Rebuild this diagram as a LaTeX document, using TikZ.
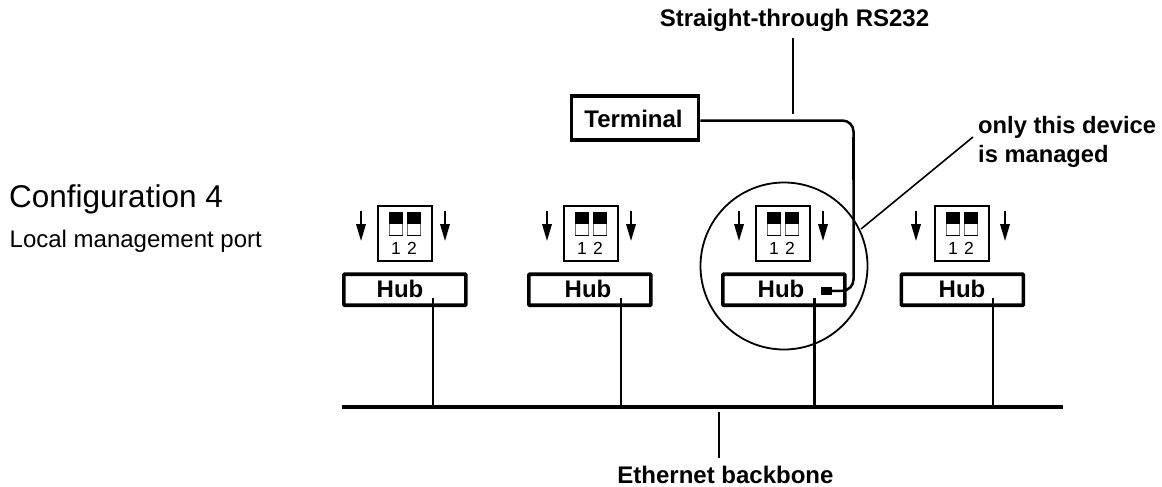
\documentclass[tikz,border=0pt]{standalone}
\usepackage{fontspec}
\setmainfont{Liberation Sans}
\usetikzlibrary{arrows.meta}
\tikzset{
 hubbox/.style={draw,line width=3.6pt,rounded corners=0.8pt,minimum width=122pt,minimum height=31pt,inner sep=0pt,anchor=north west},
 dipbox/.style={draw,line width=2.2pt,minimum width=54pt,minimum height=54.5pt,inner sep=0pt,anchor=north west},
 hublbl/.style={font=\fontsize{24}{26}\selectfont\bfseries,inner sep=0pt},
 lbl/.style={font=\fontsize{24}{29}\selectfont\bfseries,inner sep=0pt},
 sw/.style={draw=black!55,line width=1pt},
 downarrow/.style={line width=2pt,-{Triangle[width=9.5pt,length=17pt]}},
 cable/.style={line width=2.5pt},
 thin leader/.style={line width=1.6pt},
 drop/.style={line width=2.4pt},
 num/.style={font=\fontsize{17.5}{18}\selectfont,inner sep=0pt}
}
% #1 name, #2 hub left, #3 dip left, #4 hub text x, #5 tap x, #6 left arrow x, #7 right arrow x
\newcommand{\hubunit}[7]{%
 \node[hubbox] (#1) at (#2,272.4) {};
 \node[hublbl] (#1t) at (#4,289) {Hub};
 \node[dipbox] (#1d) at (#3,205) {};
 \draw[sw] (#3+12.5,212.5) rectangle (#3+25,235.5);
 \fill[black] (#3+12,212) rectangle (#3+25.5,224);
 \draw[black,line width=1.2pt] (#3+12,235.5) -- (#3+25.5,235.5);
 \draw[sw] (#3+30.5,212.5) rectangle (#3+43,235.5);
 \fill[black] (#3+30,212) rectangle (#3+43.5,224);
 \draw[black,line width=1.2pt] (#3+30,235.5) -- (#3+43.5,235.5);
 \node[num] (#1a) at (#3+19,248) {1};
 \node[num] (#1b) at (#3+35,248) {2};
 \coordinate (#1p) at (#6,211);
 \coordinate (#1q) at (#6,241);
 \coordinate (#1r) at (#7,211);
 \coordinate (#1s) at (#7,241);
 \draw[downarrow] (#1p) -- (#1q);
 \draw[downarrow] (#1r) -- (#1s);
 \coordinate (#1tap) at (#5,298);
 \coordinate (#1bb) at (#5,406);
 \draw[drop] (#1tap) -- (#1bb);
}
\begin{document}
\begin{tikzpicture}[x=1pt,y=-1pt]
\useasboundingbox (0,0) rectangle (1162,487);
\hubunit{ha}{342}{377}{400}{433}{361}{445}
\hubunit{hb}{527}{563}{588}{621}{547}{631}
\hubunit{hc}{721}{755}{781}{814.5}{739}{823}
\hubunit{hd}{899.5}{934}{962}{993}{916}{1005}
\coordinate (bl) at (342,406.5);
\coordinate (br) at (1063,406.5);
\draw[line width=4pt] (bl) -- (br);
\node[draw,line width=3.6pt,minimum width=127pt,minimum height=44.4pt,inner sep=0pt,font=\fontsize{24}{26}\selectfont\bfseries] (term) at (635,118) {\raisebox{-9pt}[0pt][0pt]{Terminal}\hspace*{3pt}};
\node[draw,line width=1.8pt,circle,minimum size=167pt,inner sep=0pt] (ring) at (784,266) {};
\node[fill=black,minimum width=11pt,minimum height=8pt,inner sep=0pt] (port) at (826.5,291) {};
\coordinate (c1) at (853.5,180);
\coordinate (c0) at (853.5,137);
\draw[cable,rounded corners=11pt] (term.east |- 0,120.5) -- (853.5,120.5) -- (853.5,290.5) -- (port.east);
\draw[line width=3.4pt] (c0) -- (c1);
\node[lbl,anchor=base] (st) at (794.5,27) {Straight-through RS232};
\coordinate (stb) at (793,38);
\coordinate (ste) at (793,114);
\draw[thin leader] (stb) -- (ste);
\node[lbl,anchor=base] (eb) at (725.5,483) {Ethernet backbone};
\coordinate (ebt) at (719,412);
\coordinate (ebb) at (719,458);
\draw[thin leader] (ebt) -- (ebb);
\node[lbl,align=left,anchor=west,font=\fontsize{23.7}{29}\selectfont\bfseries] (only) at (978,141.5) {only this device\\is managed};
\coordinate (la) at (861,229);
\coordinate (lb) at (973,137);
\draw[thin leader] (la) -- (lb);
\node[anchor=base west,inner sep=0pt,font=\fontsize{31.5}{34}\selectfont] (cf) at (9,207) {Configuration 4};
\node[anchor=base west,inner sep=0pt,font=\fontsize{24}{28}\selectfont] (lm) at (9.5,247) {Local management port};
\end{tikzpicture}
\end{document}
